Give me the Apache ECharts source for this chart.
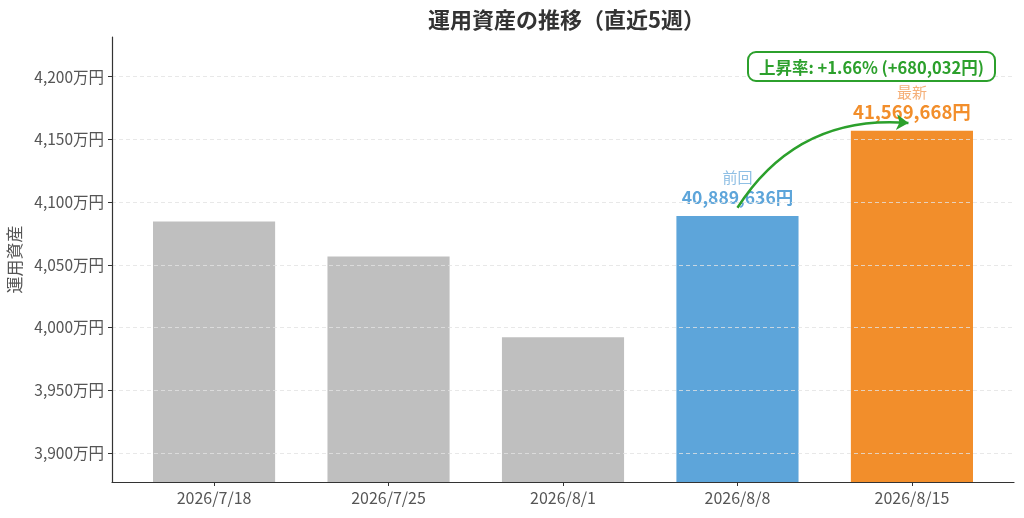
<!DOCTYPE html>
<html>
<head>
<meta charset="utf-8">
<script src="https://cdn.jsdelivr.net/npm/echarts@6/dist/echarts.min.js"></script>
<style>html,body{margin:0;padding:0;background:#fff;}#chart{width:1024px;height:518px;}</style>
</head>
<body>
<div id="chart"></div>
<script>
const categories = ['2026/7/18', '2026/7/25', '2026/8/1', '2026/8/8', '2026/8/15'];
const values = [40846000, 40566000, 39923000, 40889636, 41569668];
const yTicks = [39000000, 39500000, 40000000, 40500000, 41000000, 41500000, 42000000];
const barColors = ['#bfbfbf', '#bfbfbf', '#bfbfbf', '#5da5da', '#f28e2b'];

const FONT = '"Noto Sans CJK JP", "Noto Sans", sans-serif';
const prev = values[3], latest = values[4];
const diff = latest - prev;
const rate = diff / prev * 100;
const fmt = n => n.toLocaleString('en-US');

const chart = echarts.init(document.getElementById('chart'));
const barData = values.map((v, i) => {
  const item = { value: [i, v], itemStyle: { color: barColors[i] } };
  if (i === 3) {
    item.label = {
      show: true, position: 'top', distance: 9,
      formatter: '{a|前回}\n{b|' + fmt(v) + '円}',
      rich: {
        a: { fontFamily: FONT, fontSize: 15, color: '#8fbfe4', lineHeight: 20, align: 'center' },
        b: { fontFamily: FONT, fontSize: 17.5, fontWeight: 'bold', color: '#5da5da', lineHeight: 20, align: 'center' }
      }
    };
  }
  if (i === 4) {
    item.label = {
      show: true, position: 'top', distance: 8,
      formatter: '{a|最新}\n{b|' + fmt(v) + '円}',
      rich: {
        a: { fontFamily: FONT, fontSize: 15, color: '#f5b07a', lineHeight: 19, align: 'center' },
        b: { fontFamily: FONT, fontSize: 18.5, fontWeight: 'bold', color: '#f28e2b', lineHeight: 21, align: 'center' }
      }
    };
  }
  return item;
});

chart.setOption({
  animation: false,
  backgroundColor: '#ffffff',
  textStyle: { fontFamily: FONT },
  title: [
    {
      text: '運用資産の推移（直近5週）',
      left: 423, top: 4,
      textStyle: { fontFamily: FONT, fontSize: 22, fontWeight: 'bold', color: '#333333' }
    },
    {
      text: '上昇率: +' + rate.toFixed(2) + '% (+' + fmt(diff) + '円)',
      left: 748, top: 52,
      padding: [7, 11, 6, 11],
      borderColor: '#2ca02c', borderWidth: 2, borderRadius: 8,
      backgroundColor: '#ffffff',
      textStyle: { fontFamily: FONT, fontSize: 16.5, fontWeight: 'bold', color: '#2ca02c' }
    }
  ],
  grid: { left: 112, right: 10, top: 37, bottom: 36, containLabel: false, outerBoundsMode: 'none' },
  xAxis: {
    type: 'value',
    min: -0.585, max: 4.585,
    axisLine: { show: true, onZero: false, lineStyle: { color: '#333333', width: 1.2 } },
    axisTick: { show: true, customValues: [0, 1, 2, 3, 4], length: 4, lineStyle: { color: '#333333' } },
    axisLabel: {
      customValues: [0, 1, 2, 3, 4],
      formatter: v => categories[Math.round(v)],
      fontFamily: FONT, fontSize: 16, color: '#555555', margin: 8
    },
    splitLine: { show: false }
  },
  yAxis: {
    type: 'value',
    min: 38769000, max: 42316000,
    z: 3,
    name: '運用資産',
    nameLocation: 'middle',
    nameGap: 87,
    nameRotate: 90,
    nameTextStyle: { fontFamily: FONT, fontSize: 17, color: '#555555' },
    axisLine: { show: true, onZero: false, lineStyle: { color: '#333333', width: 1.2 } },
    axisTick: { show: true, customValues: yTicks, length: 4, lineStyle: { color: '#333333' } },
    axisLabel: {
      customValues: yTicks,
      formatter: v => fmt(Math.round(v / 10000)) + '万円',
      fontFamily: FONT, fontSize: 15.5, color: '#555555', margin: 8
    },
    splitLine: { show: true, lineStyle: { color: '#e2e2e2', type: [4, 3], width: 0.8 } }
  },
  series: [
    {
      type: 'bar',
      barWidth: '70%',
      data: barData,
      clip: true
    },
    {
      type: 'lines',
      coordinateSystem: 'cartesian2d',
      silent: true,
      z: 5,
      symbol: ['none', 'arrow'],
      symbolSize: [10, 12],
      lineStyle: { color: '#2ca02c', width: 2.5, opacity: 1, curveness: 0.3 },
      data: [{ coords: [[3, prev + 65000], [3.98, latest + 60000]] }]
    }
  ]
});
</script>
</body>
</html>
